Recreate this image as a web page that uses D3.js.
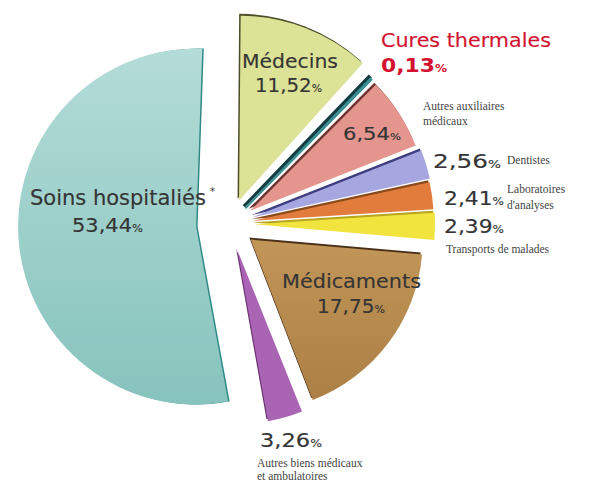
<!DOCTYPE html>
<html>
<head>
<meta charset="utf-8">
<script src="https://cdn.jsdelivr.net/npm/d3@7"></script>
<style>
  html, body { margin: 0; padding: 0; background: #ffffff; }
  svg { display: block; }
</style>
</head>
<body>
<svg id="chart" width="612" height="482"></svg>
<script>
// ---- data ----
const categories = [
  "Médecins",
  "Cures thermales",
  "Autres auxiliaires médicaux",
  "Dentistes",
  "Laboratoires d'analyses",
  "Transports de malades",
  "Médicaments",
  "Autres biens médicaux et ambulatoires",
  "Soins hospitaliés*"
];
const values = [11.52, 0.13, 6.54, 2.56, 2.41, 2.39, 17.75, 3.26, 53.44];

// ---- style (per slice) ----
const fills   = ["#dde396", "#3a8d93", "#e3958e", "#a6a6e0", "#e17c3c", "#f2e43e", "#b98b52", "#a964b3", "#a3d3ce"];
const edges   = ["#4d4d2a", "#123c40", "#6e3530", "#3d3d80", "#8a4a1c", "#b8a520", "#4a3018", "#6a3070", "#2f8a85"];
const explode = [25, 22, 24, 23, 23, 24, 26, 28, 34];
const radii   = [185, 180, 178, 182, 181, 181, 172, 173, 178];
const rotDeg  = [0.5, 2.5, 3, 3, 3, 3, 3, 2.3, 2];

const svg = d3.select("#chart");
const cx = 230, cy = 224;

const defs = svg.append("defs");
const gSoins = defs.append("linearGradient").attr("id", "gSoins").attr("x1", 0).attr("y1", 0).attr("x2", 0).attr("y2", 1);
gSoins.append("stop").attr("offset", "0%").attr("stop-color", "#b4dcd8");
gSoins.append("stop").attr("offset", "100%").attr("stop-color", "#86c3bc");
const gMed = defs.append("linearGradient").attr("id", "gMed").attr("x1", 0).attr("y1", 0).attr("x2", 0).attr("y2", 1);
gMed.append("stop").attr("offset", "0%").attr("stop-color", "#c29658");
gMed.append("stop").attr("offset", "100%").attr("stop-color", "#ac7f45");
const fillFor = i => i === 8 ? "url(#gSoins)" : (i === 6 ? "url(#gMed)" : fills[i]);

const pie = d3.pie().sort(null).value(d => d).startAngle(0).endAngle(2 * Math.PI);
const arcs = pie(values);

const slices = svg.append("g").attr("class", "slices");
arcs.forEach((a0, i) => {
  const r = rotDeg[i] * Math.PI / 180;
  const a = Object.assign({}, a0, {startAngle: a0.startAngle + r, endAngle: a0.endAngle + r});
  const mid = (a.startAngle + a.endAngle) / 2;
  const ox = cx + explode[i] * Math.sin(mid);
  const oy = cy - explode[i] * Math.cos(mid);
  const g = slices.append("g").attr("transform", `translate(${ox},${oy})`);
  const arc = d3.arc().innerRadius(0).outerRadius(radii[i]);
  // thickness rim (darker copy slightly shifted)
  g.append("path")
    .attr("d", arc(a))
    .attr("fill", edges[i])
    .attr("stroke", i === 1 ? edges[i] : "none")
    .attr("stroke-width", i === 1 ? 3 : 0)
    .attr("transform", i === 8 ? "translate(1.5,0)" : "translate(-1.5,-2)");
  g.append("path")
    .attr("d", arc(a))
    .attr("fill", fillFor(i))
    .attr("stroke", i === 1 ? fills[i] : "none")
    .attr("stroke-width", i === 1 ? 2 : 0);
});

// ---- labels ----
const pct = v => d3.format(".2f")(v).replace(".", ",");
const bigFont = "DejaVu Sans, sans-serif";
const smallFont = "Liberation Serif, serif";
const txt = "#353535";

function big(x, y, parts, opts) {
  const col = opts.color || txt;
  const t = svg.append("text")
    .attr("x", x).attr("y", y)
    .attr("font-family", bigFont)
    .attr("font-size", opts.size)
    .attr("fill", col)
    .attr("stroke", col)
    .attr("stroke-width", opts.weight === "bold" ? 0 : 0.15)
    .attr("font-weight", opts.weight || "normal")
    .attr("text-anchor", opts.anchor || "start");
  if (opts.len) t.attr("textLength", opts.len).attr("lengthAdjust", "spacingAndGlyphs");
  parts.forEach(p => {
    t.append("tspan").attr("font-size", p.small ? opts.size * 0.55 : opts.size).text(p.t);
  });
  return t;
}
function small(x, y, s) {
  svg.append("text").attr("x", x).attr("y", y)
    .attr("font-family", smallFont).attr("font-size", 11.5)
    .attr("fill", "#444").text(s);
}

// Médecins
big(242, 68, [{t: "Médecins"}], {size: 20, len: 96});
big(255, 92, [{t: pct(values[0])}, {t: "%", small: true}], {size: 19, len: 67});
// Cures thermales
big(381, 47, [{t: "Cures thermales"}], {size: 20, color: "#d3122f", len: 170});
big(381, 72, [{t: pct(values[1])}, {t: "%", small: true}], {size: 20, color: "#d3122f", weight: "bold", len: 66});
// Autres auxiliaires
small(423, 110, "Autres auxiliaires");
small(423, 125, "médicaux");
big(343, 140, [{t: pct(values[2])}, {t: "%", small: true}], {size: 17, len: 58});
// Dentistes
big(433, 168, [{t: pct(values[3])}, {t: "%", small: true}], {size: 19, len: 68});
small(507, 164, "Dentistes");
// Laboratoires
big(444, 205, [{t: pct(values[4])}, {t: "%", small: true}], {size: 19, len: 60});
small(507, 193, "Laboratoires");
small(507, 209, "d'analyses");
// Transports
big(444, 233, [{t: pct(values[5])}, {t: "%", small: true}], {size: 19, len: 60});
small(446, 253, "Transports de malades");
// Médicaments
big(282, 288, [{t: "Médicaments"}], {size: 20, len: 139});
big(317, 313, [{t: pct(values[6])}, {t: "%", small: true}], {size: 19, len: 68});
// Soins
big(30, 205, [{t: "Soins hospitaliés"}], {size: 21});
svg.append("text").attr("x", 210).attr("y", 195)
  .attr("font-family", bigFont).attr("font-size", 10).attr("fill", txt).text("*");
big(72, 232, [{t: pct(values[8])}, {t: "%", small: true}], {size: 20, len: 71});
// Autres biens
big(260, 447, [{t: pct(values[7])}, {t: "%", small: true}], {size: 19, len: 62});
small(257, 467, "Autres biens médicaux");
small(257, 480, "et ambulatoires");
</script>
</body>
</html>
